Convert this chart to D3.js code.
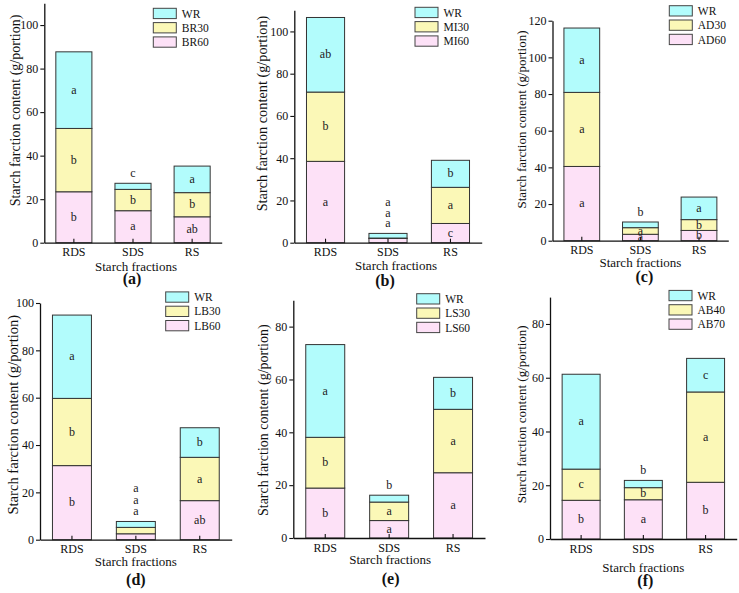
<!DOCTYPE html>
<html>
<head>
<meta charset="utf-8">
<script src="https://cdn.jsdelivr.net/npm/d3@7/dist/d3.min.js"></script>
<style>
  html, body { margin: 0; padding: 0; background: #fff; }
  svg text { font-family: "Liberation Serif", "Times New Roman", serif; fill: #111; }
</style>
</head>
<body>
<svg id="chart" width="739" height="593"></svg>
<script>
// ---------- data ----------
const categories = ["RDS", "SDS", "RS"];
const panelNames = ["(a)", "(b)", "(c)", "(d)", "(e)", "(f)"];
const yAxisTitle = "Starch farction content (g/portion)";
const xAxisTitle = "Starch fractions";

// (a) WR / BR30 / BR60
const legendA = ["WR", "BR30", "BR60"];
const topA = [35.2, 2.8, 12.2];
const midA = [29.1, 9.8, 11.1];
const lowA = [23.4, 14.7, 11.9];
const letTopA = ["a", "c", "a"];
const letMidA = ["b", "b", "b"];
const letLowA = ["b", "a", "ab"];
const yTicksA = [0, 20, 40, 60, 80, 100];

// (b) WR / MI30 / MI60
const legendB = ["WR", "MI30", "MI60"];
const topB = [35.3, 2.2, 12.8];
const midB = [32.8, 0.2, 17.1];
const lowB = [38.5, 2.0, 9.1];
const letTopB = ["ab", "a", "b"];
const letMidB = ["b", "a", "a"];
const letLowB = ["a", "a", "c"];
const yTicksB = [0, 20, 40, 60, 80, 100];

// (c) WR / AD30 / AD60
const legendC = ["WR", "AD30", "AD60"];
const topC = [35.1, 3.1, 12.3];
const midC = [40.4, 3.6, 5.9];
const lowC = [40.5, 3.5, 5.6];
const letTopC = ["a", "b", "a"];
const letMidC = ["a", "a", "b"];
const letLowC = ["a", "a", "b"];
const yTicksC = [0, 20, 40, 60, 80, 100, 120];

// (d) WR / LB30 / LB60
const legendD = ["WR", "LB30", "LB60"];
const topD = [35.2, 2.5, 12.5];
const midD = [28.4, 2.7, 18.3];
const lowD = [31.3, 2.5, 16.5];
const letTopD = ["a", "a", "b"];
const letMidD = ["b", "a", "a"];
const letLowD = ["b", "a", "ab"];
const yTicksD = [0, 20, 40, 60, 80, 100];

// (e) WR / LS30 / LS60
const legendE = ["WR", "LS30", "LS60"];
const topE = [35.1, 2.6, 12.1];
const midE = [19.2, 7.0, 24.0];
const lowE = [18.9, 6.6, 24.7];
const letTopE = ["a", "b", "b"];
const letMidE = ["b", "a", "a"];
const letLowE = ["b", "a", "a"];
const yTicksE = [0, 20, 40, 60, 80];

// (f) WR / AB40 / AB70
const legendF = ["WR", "AB40", "AB70"];
const topF = [35.3, 2.7, 12.5];
const midF = [11.6, 4.5, 33.6];
const lowF = [14.4, 14.6, 21.1];
const letTopF = ["a", "b", "c"];
const letMidF = ["c", "b", "a"];
const letLowF = ["b", "a", "b"];
const yTicksF = [0, 20, 40, 60, 80];

const yMaxes = [110, 110, 120, 100, 90, 90];

// ---------- styles / layout ----------
const colors = { top: "#b2fcfc", mid: "#fbf8b7", low: "#fde1f7" };

const layout = [
  { axisX: 44.3, xEnd: 221.7, y0: 242.7, yTop: 3.3, legX: 153.3, legY: 8.3, ylX: 20, ylY: 110.5, ylSize: 14, xlOff: 28, xlDx: 3, pnOff: 41.5, pnDx: -1, above: 1, gap: 10.5 },
  { axisX: 294.3, xEnd: 481.7, y0: 242.7, yTop: 10.3, legX: 415, legY: 7.3, ylX: 266.7, ylY: 113.5, ylSize: 14.3, xlOff: 27, xlDx: 8, pnOff: 43, pnDx: -3, above: 3, gap: 10.5 },
  { axisX: 552.5, xEnd: 728.3, y0: 240.7, yTop: 20.7, legX: 669.3, legY: 5.7, ylX: 526.2, ylY: 119.5, ylSize: 13, xlOff: 26.6, xlDx: 0, pnOff: 40.8, pnDx: 4, above: 1, gap: 10.5 },
  { axisX: 40, xEnd: 231.7, y0: 539.7, yTop: 303, legX: 165.7, legY: 291.9, ylX: 18.3, ylY: 414.7, ylSize: 14.6, xlOff: 26.6, xlDx: 0, pnOff: 44.8, pnDx: 0, above: 3, gap: 11.5 },
  { axisX: 293.3, xEnd: 485, y0: 538, yTop: 300.2, legX: 416.7, legY: 293.7, ylX: 268.3, ylY: 420.2, ylSize: 14, xlOff: 25.7, xlDx: 1, pnOff: 45.9, pnDx: 1.5, above: 1, gap: 10.5 },
  { axisX: 550, xEnd: 736.7, y0: 539, yTop: 297.1, legX: 669, legY: 290.4, ylX: 526.2, ylY: 414.3, ylSize: 13, xlOff: 32.5, xlDx: 0, pnOff: 47, pnDx: 2, above: 1, gap: 10.5 }
];

const panelData = [
  { legend: legendA, top: topA, mid: midA, low: lowA, lt: letTopA, lm: letMidA, ll: letLowA, ticks: yTicksA },
  { legend: legendB, top: topB, mid: midB, low: lowB, lt: letTopB, lm: letMidB, ll: letLowB, ticks: yTicksB },
  { legend: legendC, top: topC, mid: midC, low: lowC, lt: letTopC, lm: letMidC, ll: letLowC, ticks: yTicksC },
  { legend: legendD, top: topD, mid: midD, low: lowD, lt: letTopD, lm: letMidD, ll: letLowD, ticks: yTicksD },
  { legend: legendE, top: topE, mid: midE, low: lowE, lt: letTopE, lm: letMidE, ll: letLowE, ticks: yTicksE },
  { legend: legendF, top: topF, mid: midF, low: lowF, lt: letTopF, lm: letMidF, ll: letLowF, ticks: yTicksF }
];

const svg = d3.select("#chart");

panelData.forEach((pd, pi) => {
  const L = layout[pi];
  const g = svg.append("g");

  const x = d3.scaleBand().domain(categories).range([L.axisX, L.xEnd])
    .paddingInner(0.39).paddingOuter(0.195);
  const y = d3.scaleLinear().domain([0, yMaxes[pi]]).range([L.y0, L.yTop]);

  const rows = categories.map((c, i) => ({ cat: c, low: pd.low[i], mid: pd.mid[i], top: pd.top[i] }));
  const stack = d3.stack().keys(["low", "mid", "top"])(rows);

  const letters = { low: pd.ll, mid: pd.lm, top: pd.lt };

  stack.forEach(layer => {
    g.append("g").selectAll("rect").data(layer).join("rect")
      .attr("x", (d, i) => x(categories[i]))
      .attr("width", x.bandwidth())
      .attr("y", d => y(d[1]))
      .attr("height", d => y(d[0]) - y(d[1]))
      .attr("fill", colors[layer.key])
      .attr("stroke", "#333")
      .attr("stroke-width", 1);
  });

  // significance letters
  const keysTopDown = ["top", "mid", "low"];
  categories.forEach((c, i) => {
    const total = pd.low[i] + pd.mid[i] + pd.top[i];
    const cx = x(c) + x.bandwidth() / 2;
    keysTopDown.forEach((k, ki) => {
      const layer = stack.find(s => s.key === k);
      const d = layer[i];
      let yy;
      if (c === "SDS" && ki < L.above) {
        const idxFromBottom = (L.above - 1) - ki;
        yy = y(total) - 10 - idxFromBottom * L.gap;
      } else {
        yy = (y(d[0]) + y(d[1])) / 2;
      }
      g.append("text")
        .attr("x", cx).attr("y", yy).attr("dy", "0.3em")
        .attr("text-anchor", "middle")
        .style("font-size", "12px")
        .style("fill", "#222")
        .text(letters[k][i]);
    });
  });

  // axes
  const yAxis = d3.axisLeft(y).tickValues(pd.ticks).tickSize(4).tickSizeOuter(0).tickPadding(2);
  const ya = g.append("g").attr("transform", `translate(${L.axisX},0)`).call(yAxis);
  const xAxis = d3.axisBottom(x).tickSize(-4).tickSizeOuter(0).tickPadding(5);
  const xa = g.append("g").attr("transform", `translate(0,${L.y0})`).call(xAxis);
  [ya, xa].forEach(a => {
    a.select(".domain").attr("stroke", "#111").attr("stroke-width", 1.3);
    a.selectAll(".tick line").attr("stroke", "#111").attr("stroke-width", 1.1);
    a.selectAll(".tick text").style("font-family", '"Liberation Serif", "Times New Roman", serif')
      .style("font-size", "12px").attr("fill", "#111");
  });

  // axis titles
  g.append("text")
    .attr("transform", `translate(${L.ylX},${L.ylY}) rotate(-90)`)
    .attr("text-anchor", "middle")
    .style("font-size", L.ylSize + "px")
    .text(yAxisTitle);
  const midX = (L.axisX + L.xEnd) / 2;
  g.append("text")
    .attr("x", midX + L.xlDx).attr("y", L.y0 + L.xlOff)
    .attr("text-anchor", "middle")
    .style("font-size", "13px")
    .text(xAxisTitle);
  g.append("text")
    .attr("x", midX + L.pnDx).attr("y", L.y0 + L.pnOff)
    .attr("text-anchor", "middle")
    .style("font-size", "16px").style("font-weight", "bold")
    .text(panelNames[pi]);

  // legend
  const legKeys = ["top", "mid", "low"];
  const lg = g.append("g").attr("transform", `translate(${L.legX},${L.legY})`);
  pd.legend.forEach((name, li) => {
    lg.append("rect")
      .attr("x", 0).attr("y", li * 14.3)
      .attr("width", 23).attr("height", 10.3)
      .attr("fill", colors[legKeys[li]])
      .attr("stroke", "#444").attr("stroke-width", 1);
    lg.append("text")
      .attr("x", 28.5).attr("y", li * 14.3 + 5.2).attr("dy", "0.35em")
      .style("font-size", "11.5px")
      .text(name);
  });
});
</script>
</body>
</html>
